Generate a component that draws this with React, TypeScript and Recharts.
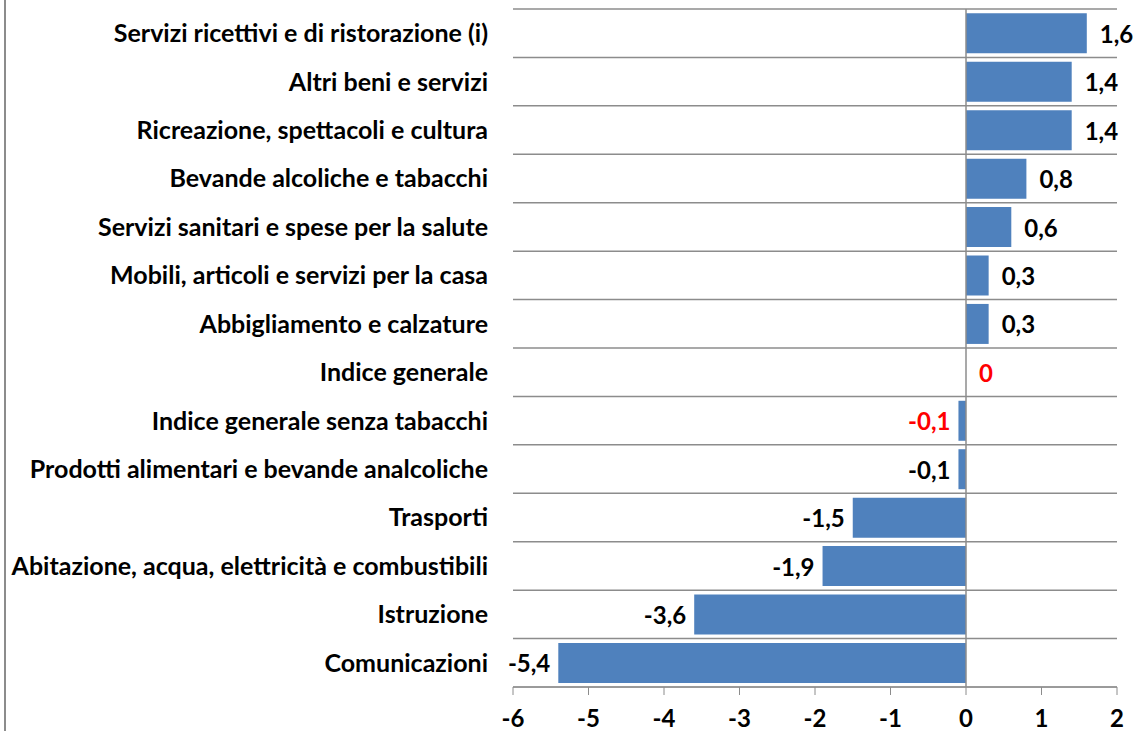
import React from 'react';
import { BarChart, Bar, XAxis, YAxis, CartesianGrid, ReferenceLine, LabelList } from 'recharts';

const categories = [
    'Servizi ricettivi e di ristorazione (i)',
    'Altri beni e servizi',
    'Ricreazione, spettacoli e cultura',
    'Bevande alcoliche e tabacchi',
    'Servizi sanitari e spese per la salute',
    'Mobili, articoli e servizi per la casa',
    'Abbigliamento e calzature',
    'Indice generale',
    'Indice generale senza tabacchi',
    'Prodotti alimentari e bevande analcoliche',
    'Trasporti',
    'Abitazione, acqua, elettricità e combustibili',
    'Istruzione',
    'Comunicazioni',
];
const values = [1.6, 1.4, 1.4, 0.8, 0.6, 0.3, 0.3, 0, -0.1, -0.1, -1.5, -1.9, -3.6, -5.4];
const highlighted = ['Indice generale', 'Indice generale senza tabacchi'];
const xTicks = [-6, -5, -4, -3, -2, -1, 0, 1, 2];

const data = categories.map((name, i) => ({ name, value: values[i], red: highlighted.includes(name) }));

const FONT = 'Lato, "Open Sans", sans-serif';
const fmt = (v: number) => String(v).replace('.', ',');

// label content receives the category name, so look the row up by it
const ValueLabel = (props: any) => {
    const { x, y, width, height, value } = props;
    const row = data.find((d) => d.name === value);
    if (!row) return null;
    const left = Math.min(x, x + width);
    const right = Math.max(x, x + width);
    const pos = row.value >= 0;
    return (
        <text
            x={pos ? right + 13 : left - 8}
            y={y + height / 2}
            textAnchor={pos ? 'start' : 'end'}
            dominantBaseline="central"
            fontFamily={FONT}
            fontWeight={700}
            fontSize={24}
            fill={row.red ? '#FF0000' : '#000000'}
        >
            {fmt(row.value)}
        </text>
    );
};

export default function App() {
    return (
        <div style={{ position: 'absolute', left: 0, top: 0, width: 1133, height: 731, background: '#fff' }}>
            <div style={{ position: 'absolute', left: 4, top: 0, width: 2, height: 731, background: '#8c8c8c' }} />
            <BarChart
                width={1133}
                height={731}
                data={data}
                layout="vertical"
                margin={{ top: 9, right: 16, bottom: 0, left: 0 }}
                barCategoryGap="9%"
            >
                <CartesianGrid
                    vertical={false}
                    stroke="#8c8c8c"
                    strokeWidth={1.5}
                    horizontalCoordinatesGenerator={({ offset }: any) =>
                        categories.map((_, i) => offset.top + (i * offset.height) / categories.length).concat(offset.top + offset.height)
                    }
                />
                <XAxis
                    type="number"
                    domain={[-6, 2]}
                    ticks={xTicks}
                    height={44}
                    stroke="#8c8c8c"
                    tickSize={8}
                    tickMargin={15}
                    tick={{ fill: '#000', fontFamily: FONT, fontWeight: 700, fontSize: 24 }}
                />
                <YAxis
                    type="category"
                    dataKey="name"
                    width={513}
                    axisLine={false}
                    tickLine={false}
                    tickSize={0}
                    tickMargin={25}
                    interval={0}
                    tick={{ fill: '#000', fontFamily: FONT, fontWeight: 700, fontSize: 25 }}
                />
                <ReferenceLine x={0} stroke="#8c8c8c" strokeWidth={1.5} />
                <Bar
                    dataKey="value"
                    fill="#4F81BD"
                    isAnimationActive={false}
                    minPointSize={(v: number) => (v === 0 ? 0.01 : 0)}
                >
                    <LabelList dataKey="name" content={<ValueLabel />} />
                </Bar>
            </BarChart>
        </div>
    );
}
